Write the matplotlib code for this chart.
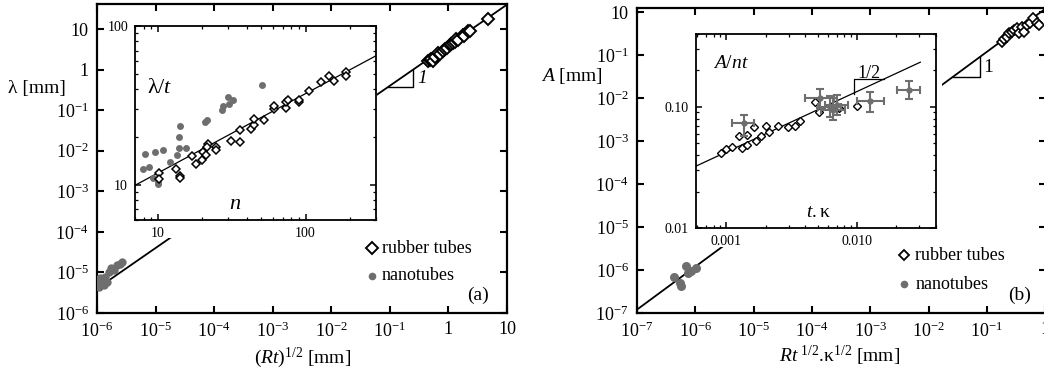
import numpy as np
import matplotlib
matplotlib.use("Agg")
from matplotlib import pyplot as plt
from matplotlib.patches import Rectangle
from matplotlib.ticker import FixedLocator, FixedFormatter, LogLocator, NullFormatter

plt.rcParams['font.family'] = ['Liberation Serif', 'DejaVu Serif']
plt.rcParams['mathtext.fontset'] = 'custom'
plt.rcParams['mathtext.rm'] = 'Liberation Serif'
plt.rcParams['mathtext.it'] = 'Liberation Serif:italic'
plt.rcParams['mathtext.bf'] = 'Liberation Serif:bold'

gray = '#6e6e6e'

# ---- panel (a) main: lambda vs (Rt)^1/2
rubber_a_x = [0.45, 0.48, 0.51, 0.55, 0.60, 0.67, 0.72, 0.80, 0.87, 0.95, 1.06,
              1.12, 1.20, 1.28, 1.37, 1.45, 1.78, 1.85, 2.17, 2.36, 4.8]
rubber_a_y = [1.62, 1.75, 1.79, 1.59, 2.0, 2.51, 2.4, 2.9, 3.3, 3.4, 4.0,
              4.2, 4.6, 4.9, 5.6, 5.3, 7.1, 6.8, 9.1, 8.7, 17.7]
nano_a_x = [1.07e-6, 1.14e-6, 1.22e-6, 1.30e-6, 1.39e-6, 1.48e-6, 1.58e-6,
            1.73e-6, 1.92e-6, 2.2e-6, 2.44e-6, 2.67e-6, 1.14e-6]
nano_a_y = [4.3e-6, 7.1e-6, 5.6e-6, 4.9e-6, 7.8e-6, 5.9e-6, 1.04e-5,
            1.26e-5, 1.15e-5, 1.5e-5, 1.65e-5, 1.8e-5, 5.4e-6]

# ---- panel (a) inset: lambda/t vs n
rubber_n = [10.2, 10.2, 13.3, 14.1, 14.1, 17.1, 18.1, 20.0, 20.3, 21.1, 21.9, 21.6,
            24.7, 24.7, 31.3, 36.0, 36.0, 42.7, 44.9, 44.9, 52.5, 60.8, 60.8, 74.1,
            74.1, 75.7, 90.2, 90.2, 105.4, 126.5, 144, 156, 187, 187]
rubber_lt = [11.9, 10.9, 12.6, 11.3, 11.1, 15.1, 13.6, 14.4, 16.0, 15.3, 18.1, 17.3,
             17.3, 16.6, 18.8, 22.0, 18.5, 22.5, 23.9, 26.0, 25.5, 29.8, 31.2, 30.5,
             33.1, 34.4, 33.1, 34.1, 39.2, 44.3, 48.3, 45.0, 51.2, 48.3]
nano_n = [7.9, 8.2, 8.7, 9.25, 9.6, 10.0, 10.0, 10.9, 12.1, 13.5, 14.2, 14.0,
          14.0, 15.6, 20.8, 21.6, 27.0, 27.8, 30.0, 30.5, 32.1, 50.7]
nano_lt = [12.6, 15.7, 12.9, 11.0, 16.2, 10.1, 10.4, 16.6, 14.0, 15.5, 23.4, 19.9,
           17.0, 17.0, 24.9, 25.4, 29.5, 31.5, 35.8, 32.3, 34.1, 42.8]

# ---- panel (b) main: A vs R t^1/2 kappa^1/2
rubber_b_x = [0.18, 0.197, 0.219, 0.243, 0.267, 0.293, 0.326, 0.361, 0.397,
              0.435, 0.483, 0.551, 0.628, 0.718, 0.795]
rubber_b_y = [0.207, 0.235, 0.271, 0.325, 0.354, 0.387, 0.425, 0.325, 0.462,
              0.354, 0.507, 0.555, 0.725, 0.573, 0.507]
nano_b_x = [4.3e-7, 5.5e-7, 5.6e-7, 6.8e-7, 7.6e-7, 8.3e-7, 1.03e-6]
nano_b_y = [6.9e-7, 5.0e-7, 4.3e-7, 1.21e-6, 8.5e-7, 9.3e-7, 1.1e-6]

# ---- panel (b) inset: A/nt vs t.kappa
rubber_tk = [9.1e-4, 1.0e-3, 1.10e-3, 1.24e-3, 1.44e-3, 1.62e-3, 1.32e-3, 1.44e-3,
             1.70e-3, 1.84e-3, 2.0e-3, 2.11e-3, 2.48e-3, 2.94e-3, 3.37e-3, 3.68e-3,
             4.80e-3, 5.09e-3, 7.24e-3, 0.010]
rubber_ant = [0.0413, 0.0449, 0.0467, 0.057, 0.0589, 0.0676, 0.0457, 0.0487,
              0.0526, 0.0578, 0.0689, 0.0615, 0.0698, 0.0676, 0.0698, 0.0767,
              0.110, 0.091, 0.0975, 0.102]
nano_tk = [1.36e-3, 5.2e-3, 6.2e-3, 6.6e-3, 7.0e-3, 0.01265, 0.0248]
nano_tk_lo = [1.10e-3, 4.02e-3, 5.0e-3, 5.3e-3, 5.7e-3, 0.0100, 0.0203]
nano_tk_hi = [1.64e-3, 6.7e-3, 7.6e-3, 8.1e-3, 8.6e-3, 0.0160, 0.0305]
nano_ant = [0.073, 0.119, 0.100, 0.095, 0.103, 0.112, 0.137]
nano_ant_lo = [0.0578, 0.0987, 0.082, 0.078, 0.085, 0.091, 0.116]
nano_ant_hi = [0.0854, 0.141, 0.122, 0.118, 0.125, 0.133, 0.163]

# tick labels
a_xticks = [1e-6, 1e-5, 1e-4, 1e-3, 1e-2, 1e-1, 1, 10]
a_xlabels = ['10$^{-6}$', '10$^{-5}$', '10$^{-4}$', '10$^{-3}$', '10$^{-2}$', '10$^{-1}$', '1', '10']
a_yticks = a_xticks
a_ylabels = a_xlabels
b_xticks = [1e-7, 1e-6, 1e-5, 1e-4, 1e-3, 1e-2, 1e-1, 1]
b_xlabels = ['10$^{-7}$', '10$^{-6}$', '10$^{-5}$', '10$^{-4}$', '10$^{-3}$', '10$^{-2}$', '10$^{-1}$', '1']
b_yticks = b_xticks
b_ylabels = ['10$^{-7}$', '10$^{-6}$', '10$^{-5}$', '10$^{-4}$', '10$^{-3}$', '10$^{-2}$', '10$^{-1}$', '10']
ia_ticks = [10, 100]
ia_labels = ['10', '100']
ib_xticks = [0.001, 0.01]
ib_xlabels = ['0.001', '0.010']
ib_yticks = [0.01, 0.1]
ib_ylabels = ['0.01', '0.10']

W, H = 1044, 377
fig = plt.figure(figsize=(W / 100, H / 100), dpi=100)


def fpos(l, t, r, b):
    return [l / W, 1 - b / H, (r - l) / W, (b - t) / H]


def style_main(ax):
    for s in ax.spines.values():
        s.set_linewidth(1.6)
    ax.tick_params(which='major', direction='in', length=5, width=1.5,
                   top=True, right=True, labelsize=13, pad=6)
    ax.tick_params(which='minor', length=0)
    ax.xaxis.set_minor_formatter(NullFormatter())
    ax.yaxis.set_minor_formatter(NullFormatter())


def style_inset(ax):
    for s in ax.spines.values():
        s.set_linewidth(1.3)
    ax.tick_params(which='major', direction='in', length=4.5, width=1.1,
                   top=True, right=True, labelsize=10, pad=5)
    ax.tick_params(which='minor', direction='in', length=2.5, width=0.9,
                   top=True, right=True)
    ax.xaxis.set_minor_locator(LogLocator(subs=np.arange(2, 10)))
    ax.yaxis.set_minor_locator(LogLocator(subs=np.arange(2, 10)))
    ax.xaxis.set_minor_formatter(NullFormatter())
    ax.yaxis.set_minor_formatter(NullFormatter())


# ================= panel (a)
axa = fig.add_axes(fpos(97, 4, 507, 313))
axa.set_xscale('log')
axa.set_yscale('log')
axa.set_xlim(1e-6, 10)
axa.set_ylim(1e-6, 41.4)
xf = np.logspace(-6, 1, 50)
axa.plot(xf, 4.0 * xf, color='black', lw=1.3, zorder=2)
axa.plot(nano_a_x, nano_a_y, 'o', color=gray, ms=6, mec='none', zorder=3)
axa.plot(rubber_a_x, rubber_a_y, 'D', mfc='white', mec='black', ms=6, mew=1.4, zorder=3)
axa.plot([0.093, 0.25, 0.25], [0.37, 0.37, 1.0], color='black', lw=1.0)
axa.text(0.29, 0.62, '1', fontsize=14, style='italic', va='center', ha='left')
axa.xaxis.set_major_locator(FixedLocator(a_xticks))
axa.xaxis.set_major_formatter(FixedFormatter(a_xlabels))
axa.yaxis.set_major_locator(FixedLocator(a_yticks))
axa.yaxis.set_major_formatter(FixedFormatter(a_ylabels))
style_main(axa)
axa.set_xlabel('$(Rt)^{1/2}$ [mm]', fontsize=14)
axa.xaxis.set_label_coords(0.502, -0.105)
axa.set_ylabel('λ [mm]', fontsize=14, rotation=0, va='center', ha='center')
axa.yaxis.set_label_coords(-0.146, 0.728)
# legend
axa.plot([0.671], [0.21], 'D', mfc='white', mec='black', ms=6, mew=1.4, transform=axa.transAxes)
axa.text(0.695, 0.21, 'rubber tubes', fontsize=13, va='center', transform=axa.transAxes)
axa.plot([0.671], [0.12], 'o', color=gray, ms=5.5, mec='none', transform=axa.transAxes)
axa.text(0.695, 0.12, 'nanotubes', fontsize=13, va='center', transform=axa.transAxes)
axa.text(0.93, 0.058, '(a)', fontsize=14, ha='center', va='center', transform=axa.transAxes)
axa.add_patch(Rectangle((110 / W, 1 - 238 / H), (377 - 110) / W, (238 - 24) / H,
                        transform=fig.transFigure, facecolor='white', edgecolor='none', zorder=5))

# inset (a)
ia = fig.add_axes(fpos(135, 26, 376, 220))
ia.set_xscale('log')
ia.set_yscale('log')
ia.set_xlim(7, 300)
ia.set_ylim(6, 100)
nf = np.logspace(np.log10(7), np.log10(300), 40)
ia.plot(nf, 3.75 * nf ** 0.5, color='black', lw=0.9)
ia.plot(nano_n, nano_lt, 'o', color=gray, ms=5, mec='none')
ia.plot(rubber_n, rubber_lt, 'D', mfc='white', mec='black', ms=4.5, mew=1.1)
style_inset(ia)
ia.xaxis.set_major_locator(FixedLocator(ia_ticks))
ia.xaxis.set_major_formatter(FixedFormatter(ia_labels))
ia.yaxis.set_major_locator(FixedLocator(ia_ticks))
ia.yaxis.set_major_formatter(FixedFormatter(ia_labels))
ia.text(0.05, 0.68, 'λ/$t$', fontsize=16, transform=ia.transAxes, va='center')
ia.text(0.39, 0.08, '$n$', fontsize=16, transform=ia.transAxes, va='center')

# ================= panel (b)
axb = fig.add_axes(fpos(637, 8, 1046, 313))
axb.set_xscale('log')
axb.set_yscale('log')
axb.set_xlim(1e-7, 10 ** 0.015)
axb.set_ylim(1e-7, 10 ** 0.1)
xf = np.logspace(-7, 0.1, 50)
axb.plot(xf, 1.2 * xf, color='black', lw=1.3, zorder=2)
axb.plot(nano_b_x, nano_b_y, 'o', color=gray, ms=6.5, mec='none', zorder=3)
axb.plot(rubber_b_x, rubber_b_y, 'D', mfc='white', mec='black', ms=5.5, mew=1.2, zorder=3)
axb.plot([0.026, 0.076, 0.076], [0.031, 0.031, 0.091], color='black', lw=1.0)
axb.text(0.088, 0.053, '1', fontsize=14, va='center', ha='left')
axb.xaxis.set_major_locator(FixedLocator(b_xticks))
axb.xaxis.set_major_formatter(FixedFormatter(b_xlabels))
axb.yaxis.set_major_locator(FixedLocator(b_yticks))
axb.yaxis.set_major_formatter(FixedFormatter(b_ylabels))
style_main(axb)
axb.set_xlabel('$Rt^{\\ 1/2}$.κ$^{1/2}$ [mm]', fontsize=14)
axb.xaxis.set_label_coords(0.496, -0.1)
axb.set_ylabel('$A$ [mm]', fontsize=14, rotation=0, va='center', ha='center')
axb.yaxis.set_label_coords(-0.159, 0.777)
axb.plot([0.654], [0.19], 'D', mfc='white', mec='black', ms=5, mew=1.3, transform=axb.transAxes)
axb.text(0.68, 0.19, 'rubber tubes', fontsize=13, va='center', transform=axb.transAxes)
axb.plot([0.654], [0.095], 'o', color=gray, ms=5.5, mec='none', transform=axb.transAxes)
axb.text(0.68, 0.095, 'nanotubes', fontsize=13, va='center', transform=axb.transAxes)
axb.text(0.936, 0.059, '(b)', fontsize=14, ha='center', va='center', transform=axb.transAxes)
axb.add_patch(Rectangle((652 / W, 1 - 247 / H), (942 - 652) / W, (247 - 30) / H,
                        transform=fig.transFigure, facecolor='white', edgecolor='none', zorder=5))

# inset (b)
ib = fig.add_axes(fpos(696, 34, 936, 228))
ib.set_xscale('log')
ib.set_yscale('log')
ib.set_xlim(5.86e-4, 0.0402)
ib.set_ylim(0.01, 0.40)
tf = np.logspace(np.log10(5.86e-4), np.log10(0.0305), 40)
ib.plot(tf, 1.34 * tf ** 0.5, color='black', lw=0.9)
ib.plot(rubber_tk, rubber_ant, 'D', mfc='white', mec='black', ms=4.2, mew=1.0)
tk = np.array(nano_tk)
an = np.array(nano_ant)
ib.errorbar(tk, an,
            xerr=[tk - np.array(nano_tk_lo), np.array(nano_tk_hi) - tk],
            yerr=[an - np.array(nano_ant_lo), np.array(nano_ant_hi) - an],
            fmt='o', color=gray, ms=3.5, elinewidth=1.5, capsize=3, capthick=1.5)
ib.plot([0.0095, 0.0095, 0.016], [0.129, 0.169, 0.169], color='black', lw=0.9)
ib.text(0.0123, 0.19, '1/2', fontsize=13, ha='center', va='center')
style_inset(ib)
ib.xaxis.set_major_locator(FixedLocator(ib_xticks))
ib.xaxis.set_major_formatter(FixedFormatter(ib_xlabels))
ib.yaxis.set_major_locator(FixedLocator(ib_yticks))
ib.yaxis.set_major_formatter(FixedFormatter(ib_ylabels))
ib.text(0.07, 0.85, '$A/nt$', fontsize=14, transform=ib.transAxes, va='center')
ib.text(0.46, 0.08, '$t.$κ', fontsize=14, transform=ib.transAxes, va='center')

fig.savefig('out.png', dpi=100)
